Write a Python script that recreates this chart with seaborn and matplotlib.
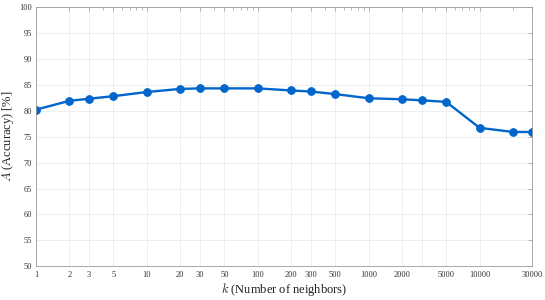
import numpy as np
import pandas as pd
import seaborn as sns
import matplotlib.pyplot as plt
from matplotlib.ticker import LogLocator, NullFormatter, FixedLocator

# k values and accuracy
k_values = [1, 2, 3, 5, 10, 20, 30, 50, 100, 200, 300, 500, 1000, 2000, 3000, 5000, 10000, 20000, 30000]
accuracy = [80.2, 81.9, 82.3, 82.8, 83.6, 84.2, 84.3, 84.3, 84.3, 83.9, 83.7, 83.2, 82.4, 82.2, 82.0, 81.7, 76.7, 75.9, 75.9]

x_ticks = [1, 2, 3, 5, 10, 20, 30, 50, 100, 200, 300, 500, 1000, 2000, 3000, 5000, 10000, 30000]
x_labels = ['1', '2', '3', '5', '10', '20', '30', '50', '100', '200', '300', '500', '1000', '2000', '', '5000', '10000', '30000']
y_ticks = list(range(50, 101, 5))

df = pd.DataFrame({'k': k_values, 'acc': accuracy})

sns.set_theme(style='white')
plt.rcParams['font.family'] = ['Liberation Serif', 'DejaVu Serif']
plt.rcParams['mathtext.fontset'] = 'cm'

fig, ax = plt.subplots(figsize=(5.45, 3.0), dpi=100)
fig.subplots_adjust(left=0.066, right=0.977, top=0.977, bottom=0.112)

line_color = '#0066CC'
sns.lineplot(data=df, x='k', y='acc', ax=ax, color=line_color, linewidth=1.7,
             marker='o', markersize=5.5, markeredgecolor=line_color, markerfacecolor=line_color)

ax.set_xscale('log')
ax.set_xlim(1, 30000)
ax.set_ylim(50, 100)
ax.xaxis.set_major_locator(FixedLocator(x_ticks))
ax.set_xticklabels(x_labels)
ax.xaxis.set_minor_locator(LogLocator(base=10, subs=np.arange(2, 10), numticks=20))
ax.xaxis.set_minor_formatter(NullFormatter())
ax.set_yticks(y_ticks)

ax.grid(True, which='major', color='#ebebeb', linewidth=0.6)
ax.set_axisbelow(True)

for s in ax.spines.values():
    s.set_color('#9a9a9a')
    s.set_linewidth(0.6)

ax.tick_params(axis='both', which='both', direction='in', top=True, right=True,
               colors='#9a9a9a', labelcolor='#333333', labelsize=6, width=0.5)
ax.tick_params(axis='both', which='major', length=3, pad=3)
ax.tick_params(axis='x', which='minor', length=2.5)

ax.set_xlabel(r'$k$ (Number of neighbors)', fontsize=9, color='#222222', labelpad=2)
ax.set_ylabel(r'$A$ (Accuracy) [%]', fontsize=9, color='#222222', labelpad=2)

plt.savefig('out.png', dpi=100)
